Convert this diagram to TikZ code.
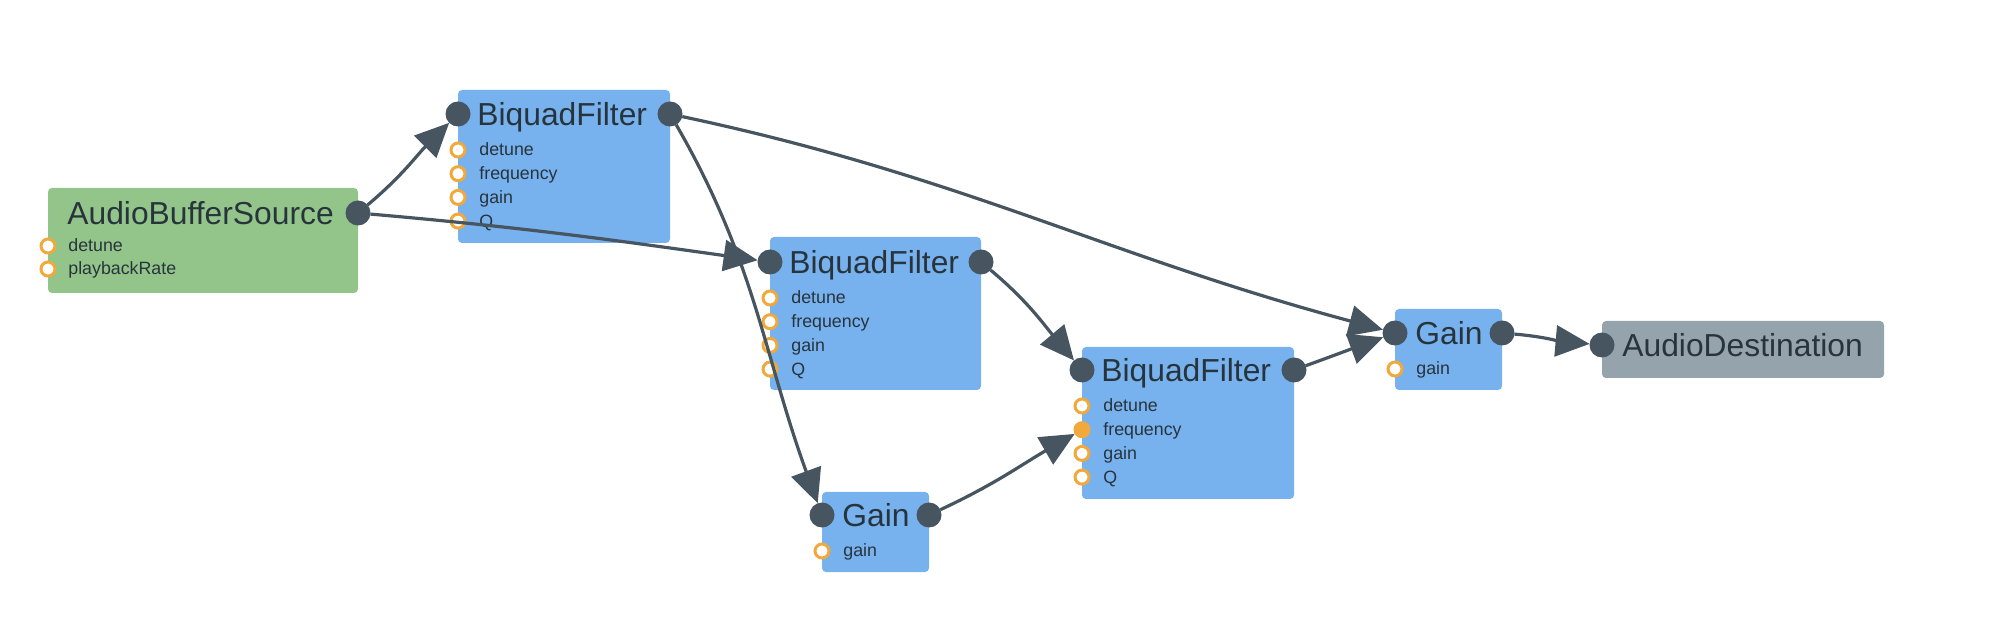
\documentclass[tikz,border=0pt]{standalone}
\usepackage{fontspec}
\setmainfont{Liberation Sans}
\usetikzlibrary{arrows.meta}
\definecolor{srcgreen}{RGB}{147,197,138}
\definecolor{fxblue}{RGB}{119,177,238}
\definecolor{dstgray}{RGB}{149,163,173}
\definecolor{portdark}{RGB}{70,85,95}
\definecolor{paramorange}{RGB}{242,169,59}
\definecolor{textdark}{RGB}{40,52,60}
\tikzset{
  box/.style={rounded corners=2pt,inner sep=0,outer sep=0,anchor=north west},
  box src/.style={box,fill=srcgreen},
  box fx/.style={box,fill=fxblue},
  box dst/.style={box,fill=dstgray},
  port/.style={circle,fill=portdark,minimum size=12.5pt,inner sep=0,outer sep=0},
  param/.style={circle,draw=paramorange,line width=1.5pt,fill=white,minimum size=7pt,inner sep=0},
  title/.style={anchor=base west,inner sep=0,text=textdark,font=\fontsize{15.9}{19}\selectfont},
  plabel/.style={anchor=base west,inner sep=0,text=textdark,font=\fontsize{8.9}{11}\selectfont},
  connect/.style={line width=1.6pt,portdark,-{Triangle[length=17pt,width=15.5pt]}}
}

\begin{document}
\begin{tikzpicture}[x=0.5pt,y=-0.5pt]
\useasboundingbox (0,0) rectangle (1996,640);
% blocks
\path
(48,188)   node[box src,minimum width=155pt,minimum height=52.5pt]  (src) {}
(458,90)   node[box fx,minimum width=106pt,minimum height=76.5pt]   (bq1) {}
(770,237)  node[box fx,minimum width=105.5pt,minimum height=76.5pt] (bq2) {}
(1082,347) node[box fx,minimum width=106pt,minimum height=76pt]     (bq3) {}
(822,492)  node[box fx,minimum width=53.5pt,minimum height=40pt]    (gain1) {}
(1395,309) node[box fx,minimum width=53.5pt,minimum height=40.5pt]  (gain2) {}
(1602,321) node[box dst,minimum width=141pt,minimum height=28.5pt]  (dst) {};
% titles
\path
(67,225)   node[title] (src-title)   {AudioBufferSource}
(477,126)  node[title] (bq1-title)   {BiquadFilter}
(789,274)  node[title] (bq2-title)   {BiquadFilter}
(1101,382) node[title] (bq3-title)   {BiquadFilter}
(842,527)  node[title] (gain1-title) {Gain}
(1415,345) node[title] (gain2-title) {Gain}
(1622,357) node[title] (dst-title)   {AudioDestination};
% in / out ports
\path
(358,213)  node[port] (src-out) {}
(458,114)  node[port] (bq1-in) {}   (670,114)  node[port] (bq1-out) {}
(770,262)  node[port] (bq2-in) {}   (981,262)  node[port] (bq2-out) {}
(1082,370) node[port] (bq3-in) {}   (1294,370) node[port] (bq3-out) {}
(822,515)  node[port] (gain1-in) {} (929,515)  node[port] (gain1-out) {}
(1395,333) node[port] (gain2-in) {} (1502,333) node[port] (gain2-out) {}
(1602,345) node[port] (dst-in) {};
% params
\foreach \b/\x/\y/\fq in {bq1/458/150/white,bq2/770/298/white,bq3/1082/406/paramorange}
  \foreach \p/\f [count=\i from 0] in {detune/white,frequency/\fq,gain/white,Q/white}
    \path (\x,{\y+23.7*\i}) node[param,fill=\f] (\b-\p) {}
          ++(21,6) node[plabel] (\b-\p-label) {\p};
\path
(48,246)   node[param] (src-detune) {} ++(20,6) node[plabel] (src-detune-label) {detune}
(48,269)   node[param] (src-rate) {}   ++(20,6) node[plabel] (src-rate-label) {playbackRate}
(822,551)  node[param] (gain1-gain) {} ++(21,6) node[plabel] (gain1-gain-label) {gain}
(1395,369) node[param] (gain2-gain) {} ++(21,6) node[plabel] (gain2-gain-label) {gain};
% connections
\draw[connect] (src-out) to[out=40,in=-135] (bq1-in);
\draw[connect] (src-out) to[out=-5,in=172] (bq2-in);
\draw[connect] (bq1-out) to[out=-60,in=110] (gain1-in);
\draw[connect] (bq1-out) to[out=-12,in=165] (gain2-in);
\draw[connect] (bq2-out) to[out=-40,in=130] (bq3-in);
\draw[connect] (gain1-out) to[out=25,in=-150] (bq3-frequency);
\draw[connect] (bq3-out) to[out=20,in=-160] (gain2-in);
\draw[connect] (gain2-out) to[out=-5,in=175] (dst-in);
\end{tikzpicture}
\end{document}
